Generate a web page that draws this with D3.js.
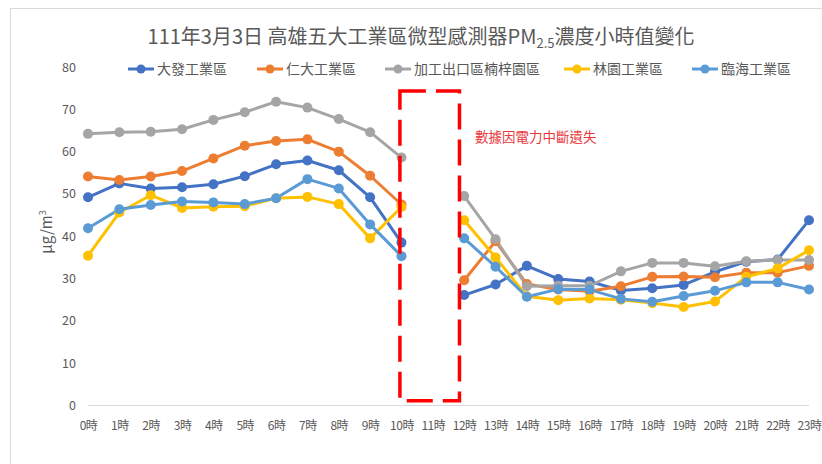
<!DOCTYPE html>
<html><head><meta charset="utf-8">
<script src="https://cdn.jsdelivr.net/npm/d3@7"></script>
<style>
body{margin:0;background:#fff;}
svg{font-family:"Noto Sans CJK TC","Noto Sans",sans-serif;}
</style></head>
<body><svg id="c" width="822" height="464"></svg>
<script>
const hours = ["0時","1時","2時","3時","4時","5時","6時","7時","8時","9時","10時","11時","12時","13時","14時","15時","16時","17時","18時","19時","20時","21時","22時","23時"];
const seriesNames = ["大發工業區","仁大工業區","加工出口區楠梓園區","林園工業區","臨海工業區"];
const colors = ["#4472C4","#ED7D31","#A5A5A5","#FFC000","#5B9BD5"];
const daFa    = [49.2,52.5,51.3,51.6,52.3,54.2,57.0,57.9,55.6,49.2,38.5,null,26.1,28.6,33.0,29.9,29.3,27.2,27.7,28.5,31.6,34.0,34.5,43.8];
const renDa   = [54.1,53.3,54.1,55.4,58.4,61.4,62.5,62.9,60.0,54.3,47.5,null,29.6,38.8,28.7,27.4,27.0,28.2,30.4,30.5,30.3,31.4,31.4,33.0];
const nanZi   = [64.2,64.6,64.7,65.3,67.5,69.3,71.8,70.4,67.7,64.6,58.6,null,49.5,39.3,28.2,28.3,28.3,31.7,33.7,33.7,32.9,34.1,34.4,34.4];
const linYuan = [35.4,45.6,49.7,46.7,47.0,47.1,49.0,49.3,47.6,39.5,46.9,null,43.8,35.0,25.8,24.9,25.3,25.0,24.2,23.3,24.6,30.4,32.4,36.7];
const linHai  = [41.9,46.4,47.4,48.2,48.0,47.6,49.0,53.5,51.3,42.8,35.3,null,39.5,32.8,25.7,27.5,27.4,25.2,24.5,25.9,27.1,29.1,29.1,27.4];
const allSeries = [daFa, renDa, nanZi, linYuan, linHai];
const yTicks = [0,10,20,30,40,50,60,70,80];
const title = "111年3月3日 高雄五大工業區微型感測器PM";
const note = "數據因電力中斷遺失";
// annotation box in data units: from hour index 10 to 12, value 1 to 74.3
const boxHours = [9.95, 11.85];
const boxVals = [1.1, 74.3];

const svg = d3.select("#c");
// outer frame
svg.append("rect").attr("x",10.5).attr("y",8.5).attr("width",830).attr("height",470)
  .attr("fill","none").attr("stroke","#d9d9d9").attr("stroke-width",1);

const x = d3.scalePoint().domain(hours).range([88, 809]);
const xi = d3.scaleLinear().domain([0, 23]).range([88, 809]);
const y = d3.scaleLinear().domain([0, 80]).range([405.5, 67]);

// axis line at 0
svg.append("line").attr("x1",x(hours[0])).attr("x2",x(hours[23]))
  .attr("y1",y(0)).attr("y2",y(0)).attr("stroke","#d9d9d9").attr("stroke-width",1);

// y tick labels
const yAxis = d3.axisLeft(y).tickValues(yTicks).tickSize(0).tickPadding(0);
const gy = svg.append("g").attr("transform","translate(76,0)").call(yAxis);
gy.select(".domain").remove();
gy.selectAll("text").attr("fill","#595959").style("font-size","12.5px").attr("font-family","'Noto Sans CJK TC',sans-serif");

// x tick labels
const xAxis = d3.axisBottom(x).tickSize(0).tickPadding(0);
const gx = svg.append("g").attr("transform","translate(0,421)").call(xAxis);
gx.select(".domain").remove();
gx.selectAll("text").attr("fill","#595959").style("font-size","12px").attr("font-family","'Noto Sans CJK TC',sans-serif").attr("letter-spacing","-0.5px");

// y axis title
svg.append("text").attr("transform","translate(52,232) rotate(-90)")
  .attr("text-anchor","middle").attr("fill","#595959").style("font-size","15px")
  .html('μg/m<tspan dy="-6" style="font-size:9px">3</tspan>');

// lines
const line = d3.line().defined(d => d != null).x((d,i) => xi(i)).y(d => y(d));
allSeries.forEach((s, k) => {
  svg.append("path").datum(s).attr("d", line).attr("fill","none")
    .attr("stroke", colors[k]).attr("stroke-width", 3).attr("stroke-linejoin","round");
});
allSeries.forEach((s, k) => {
  svg.append("g").selectAll("circle").data(s.map((v,i)=>({v,i})).filter(d=>d.v!=null))
    .join("circle").attr("cx", d => xi(d.i)).attr("cy", d => y(d.v)).attr("r", 5)
    .attr("fill", colors[k]);
});

// red dashed box
svg.append("rect")
  .attr("x", xi(boxHours[0])).attr("y", y(boxVals[1]))
  .attr("width", xi(boxHours[1]) - xi(boxHours[0])).attr("height", y(boxVals[0]) - y(boxVals[1]))
  .attr("fill","none").attr("stroke","#FF0000").attr("stroke-width",3.5).attr("stroke-dasharray","26,10");

svg.append("text").attr("x",475).attr("y",142).attr("fill","#E8383D").style("font-size","13.5px").text(note);

// title
svg.append("text").attr("x",421).attr("y",44).attr("text-anchor","middle").attr("fill","#595959")
  .style("font-size","20px")
  .html(title + '<tspan dy="4" style="font-size:13px">2.5</tspan><tspan dy="-4">濃度小時值變化</tspan>');

// legend
const legX = [128, 257, 385, 564, 692];
seriesNames.forEach((n, k) => {
  const g = svg.append("g").attr("transform", `translate(${legX[k]},69)`);
  g.append("line").attr("x1",0).attr("x2",26).attr("y1",0).attr("y2",0).attr("stroke",colors[k]).attr("stroke-width",3);
  g.append("circle").attr("cx",13).attr("cy",0).attr("r",4.5).attr("fill",colors[k]);
  g.append("text").attr("x",29).attr("y",5).attr("fill","#595959").style("font-size","14px").text(n);
});
</script></body></html>
